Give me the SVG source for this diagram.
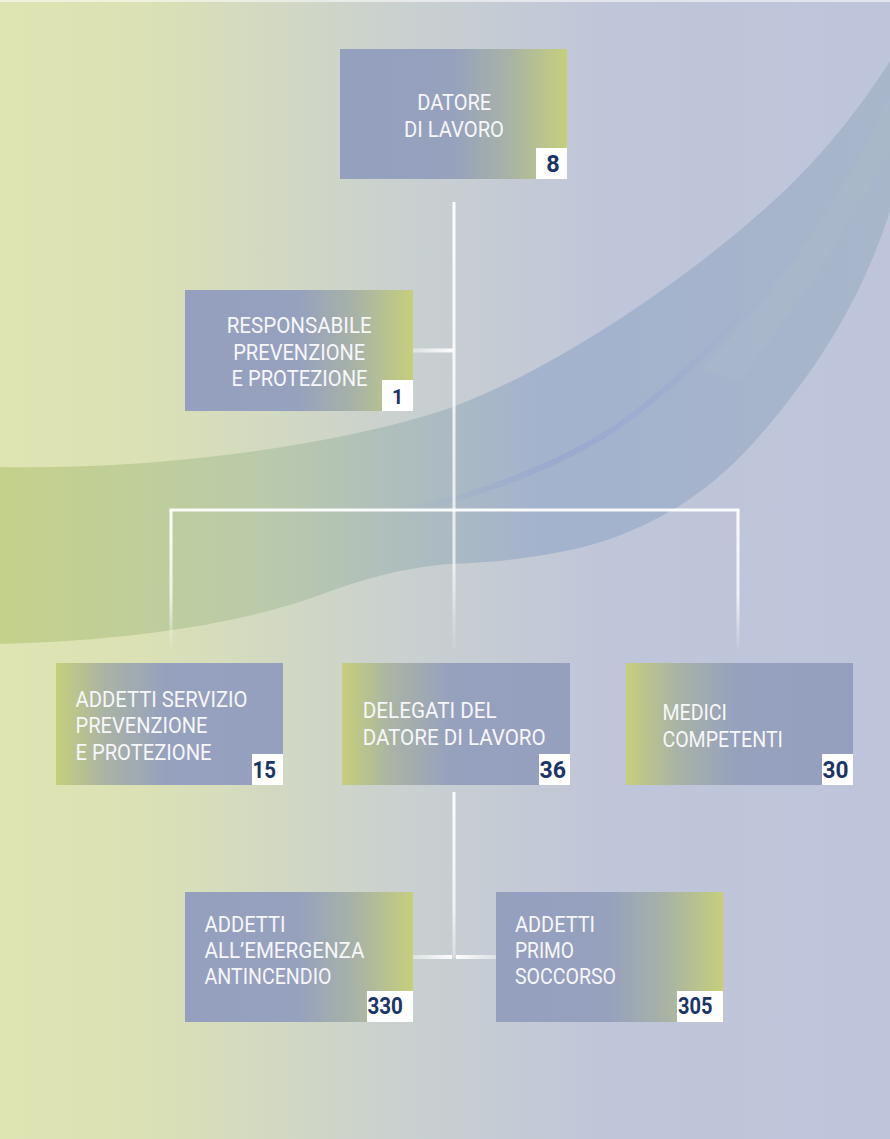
<svg xmlns="http://www.w3.org/2000/svg" width="890" height="1139" viewBox="0 0 890 1139">
<defs>
<linearGradient id="bg" x1="0" y1="0" x2="1" y2="0">
<stop offset="0" stop-color="#dee4b2"/>
<stop offset="0.16" stop-color="#dbe1b4"/>
<stop offset="0.46" stop-color="#c9d0d0"/>
<stop offset="0.68" stop-color="#c0c6d9"/>
<stop offset="1" stop-color="#bec4da"/>
</linearGradient>
<linearGradient id="band" x1="0" y1="0" x2="1" y2="0">
<stop offset="0" stop-color="#bccb7e" stop-opacity="0.75"/>
<stop offset="0.3" stop-color="#a9bf9c" stop-opacity="0.6"/>
<stop offset="0.6" stop-color="#8ea3c6" stop-opacity="0.58"/>
<stop offset="1" stop-color="#98adbf" stop-opacity="0.6"/>
</linearGradient>
<linearGradient id="streak" gradientUnits="userSpaceOnUse" x1="400" y1="0" x2="760" y2="0">
<stop offset="0" stop-color="#8e9ed2" stop-opacity="0"/>
<stop offset="0.45" stop-color="#8e9ed2" stop-opacity="0.45"/>
<stop offset="0.7" stop-color="#8e9ed2" stop-opacity="0.3"/>
<stop offset="1" stop-color="#8e9ed2" stop-opacity="0"/>
</linearGradient>
<linearGradient id="boxR" x1="0" y1="0" x2="1" y2="0">
<stop offset="0" stop-color="#95a0bf"/>
<stop offset="0.5" stop-color="#96a1be"/>
<stop offset="0.75" stop-color="#a8b3a6"/>
<stop offset="1" stop-color="#c6cf7b"/>
</linearGradient>
<linearGradient id="boxL" x1="0" y1="0" x2="1" y2="0">
<stop offset="0" stop-color="#c6cf7b"/>
<stop offset="0.22" stop-color="#a9b3a5"/>
<stop offset="0.48" stop-color="#96a1be"/>
<stop offset="1" stop-color="#95a0bf"/>
</linearGradient>
<linearGradient id="vMain" gradientUnits="userSpaceOnUse" x1="0" y1="202" x2="0" y2="654">
<stop offset="0" stop-color="#ffffff" stop-opacity="0.95"/>
<stop offset="0.8" stop-color="#ffffff" stop-opacity="0.7"/>
<stop offset="1" stop-color="#ffffff" stop-opacity="0"/>
</linearGradient>
<linearGradient id="vSide" gradientUnits="userSpaceOnUse" x1="0" y1="510" x2="0" y2="652">
<stop offset="0" stop-color="#ffffff" stop-opacity="0.95"/>
<stop offset="0.6" stop-color="#ffffff" stop-opacity="0.75"/>
<stop offset="1" stop-color="#ffffff" stop-opacity="0"/>
</linearGradient>
<linearGradient id="vLow" gradientUnits="userSpaceOnUse" x1="0" y1="792" x2="0" y2="958">
<stop offset="0" stop-color="#ffffff" stop-opacity="0.95"/>
<stop offset="0.7" stop-color="#ffffff" stop-opacity="0.75"/>
<stop offset="1" stop-color="#ffffff" stop-opacity="0.3"/>
</linearGradient>
<linearGradient id="hL" x1="0" y1="0" x2="1" y2="0">
<stop offset="0" stop-color="#ffffff" stop-opacity="0.4"/>
<stop offset="1" stop-color="#ffffff" stop-opacity="0.95"/>
</linearGradient>
<linearGradient id="hR" x1="0" y1="0" x2="1" y2="0">
<stop offset="0" stop-color="#ffffff" stop-opacity="0.95"/>
<stop offset="1" stop-color="#ffffff" stop-opacity="0.4"/>
</linearGradient>
<style>
.lbl{font-family:Roboto,"Liberation Sans",sans-serif;font-size:22px;fill:#f6f7f9}
.num{font-family:Roboto,"Liberation Sans",sans-serif;font-size:23.5px;font-weight:700;fill:#1b3566}
.nb{fill:#ffffff}
.ln{fill:none;stroke-width:3}
</style>
</defs>

<rect x="0" y="0" width="890" height="1139" fill="url(#bg)"/>
<rect x="0" y="0" width="890" height="2" fill="#ffffff" fill-opacity="0.55"/>

<g id="swoosh">
<path d="M0,467 C150,470 330,448 450,408 C560,368 700,270 780,195 C830,148 865,100 890,61 L890,211 C865,290 825,355 785,405 C750,450 720,480 681,505 C640,530 600,545 560,552 C520,560 480,563 450,564 C400,568 360,580 320,595 C250,620 150,640 0,644 Z" fill="url(#band)"/>
<path d="M890,97 C860,160 820,230 770,290 C740,330 720,350 700,370 L740,380 C790,320 840,240 890,150 Z" fill="#b4c2c6" fill-opacity="0.18"/>
<path d="M410,510 C480,495 560,465 620,425 C670,388 710,350 740,315" fill="none" stroke="url(#streak)" stroke-width="6"/>
</g>

<g id="connectors">
<line class="ln" x1="454" y1="202" x2="454" y2="654" stroke="url(#vMain)"/>
<rect x="413" y="348.5" width="40" height="4" fill="url(#hL)"/>
<line class="ln" x1="169.5" y1="510" x2="739.5" y2="510" stroke="#ffffff" stroke-opacity="0.92"/>
<line class="ln" x1="171" y1="510" x2="171" y2="652" stroke="url(#vSide)"/>
<line class="ln" x1="738" y1="510" x2="738" y2="652" stroke="url(#vSide)"/>
<line class="ln" x1="454" y1="792" x2="454" y2="958" stroke="url(#vLow)"/>
<rect x="413" y="955" width="39" height="4" fill="url(#hL)"/>
<rect x="456" y="955" width="40" height="4" fill="url(#hR)"/>
</g>

<g id="node-datore">
<rect x="340" y="49" width="227" height="130" fill="url(#boxR)"/>
<text class="lbl" x="454.2" y="110" text-anchor="middle" textLength="74" lengthAdjust="spacingAndGlyphs">DATORE</text>
<text class="lbl" x="454" y="136.7" text-anchor="middle" textLength="100" lengthAdjust="spacingAndGlyphs">DI LAVORO</text>
<rect class="nb" x="536" y="148" width="31" height="31"/>
<text class="num" x="553" y="171.7" text-anchor="middle">8</text>
</g>

<g id="node-rspp">
<rect x="185" y="290" width="228" height="121" fill="url(#boxR)"/>
<text class="lbl" x="299.2" y="332.7" text-anchor="middle" textLength="145" lengthAdjust="spacingAndGlyphs">RESPONSABILE</text>
<text class="lbl" x="299.2" y="360" text-anchor="middle" textLength="132" lengthAdjust="spacingAndGlyphs">PREVENZIONE</text>
<text class="lbl" x="299.5" y="386" text-anchor="middle" textLength="136" lengthAdjust="spacingAndGlyphs">E PROTEZIONE</text>
<rect class="nb" x="382" y="380" width="31" height="31"/>
<text class="num" x="397.5" y="404" text-anchor="middle" style="font-size:19.5px">1</text>
</g>

<g id="node-addetti-spp">
<rect x="56" y="663" width="227" height="122" fill="url(#boxL)"/>
<text class="lbl" x="75.5" y="706.7" textLength="172" lengthAdjust="spacingAndGlyphs">ADDETTI SERVIZIO</text>
<text class="lbl" x="75.5" y="733.3" textLength="132" lengthAdjust="spacingAndGlyphs">PREVENZIONE</text>
<text class="lbl" x="75.5" y="760" textLength="136" lengthAdjust="spacingAndGlyphs">E PROTEZIONE</text>
<rect class="nb" x="252" y="754" width="31" height="31"/>
<text class="num" x="252.5" y="778" textLength="23.5" lengthAdjust="spacingAndGlyphs">15</text>
</g>

<g id="node-delegati">
<rect x="342" y="663" width="228" height="122" fill="url(#boxL)"/>
<text class="lbl" x="362.7" y="718.3" textLength="134" lengthAdjust="spacingAndGlyphs">DELEGATI DEL</text>
<text class="lbl" x="362.7" y="745" textLength="183" lengthAdjust="spacingAndGlyphs">DATORE DI LAVORO</text>
<rect class="nb" x="539" y="754" width="31" height="31"/>
<text class="num" x="539.5" y="778" textLength="26.5" lengthAdjust="spacingAndGlyphs">36</text>
</g>

<g id="node-medici">
<rect x="626" y="663" width="227" height="122" fill="url(#boxL)"/>
<text class="lbl" x="662.4" y="720" textLength="64.5" lengthAdjust="spacingAndGlyphs">MEDICI</text>
<text class="lbl" x="662.4" y="747.3" textLength="120.5" lengthAdjust="spacingAndGlyphs">COMPETENTI</text>
<rect class="nb" x="822" y="754" width="31" height="31"/>
<text class="num" x="822.5" y="778" textLength="26" lengthAdjust="spacingAndGlyphs">30</text>
</g>

<g id="node-antincendio">
<rect x="185" y="892" width="228" height="130" fill="url(#boxR)"/>
<text class="lbl" x="204.5" y="931.7" textLength="81" lengthAdjust="spacingAndGlyphs">ADDETTI</text>
<text class="lbl" x="204.5" y="958.3" textLength="160" lengthAdjust="spacingAndGlyphs">ALL’EMERGENZA</text>
<text class="lbl" x="204.5" y="984.3" textLength="127" lengthAdjust="spacingAndGlyphs">ANTINCENDIO</text>
<rect class="nb" x="367" y="991" width="46" height="31"/>
<text class="num" x="367.4" y="1014" textLength="35.5" lengthAdjust="spacingAndGlyphs">330</text>
</g>

<g id="node-primo-soccorso">
<rect x="496" y="892" width="227.5" height="130" fill="url(#boxR)"/>
<text class="lbl" x="515" y="931.7" textLength="80" lengthAdjust="spacingAndGlyphs">ADDETTI</text>
<text class="lbl" x="515" y="958.3" textLength="59" lengthAdjust="spacingAndGlyphs">PRIMO</text>
<text class="lbl" x="515" y="984.3" textLength="101" lengthAdjust="spacingAndGlyphs">SOCCORSO</text>
<rect class="nb" x="677" y="991" width="46" height="31"/>
<text class="num" x="678" y="1014" textLength="34.5" lengthAdjust="spacingAndGlyphs">305</text>
</g>
</svg>
